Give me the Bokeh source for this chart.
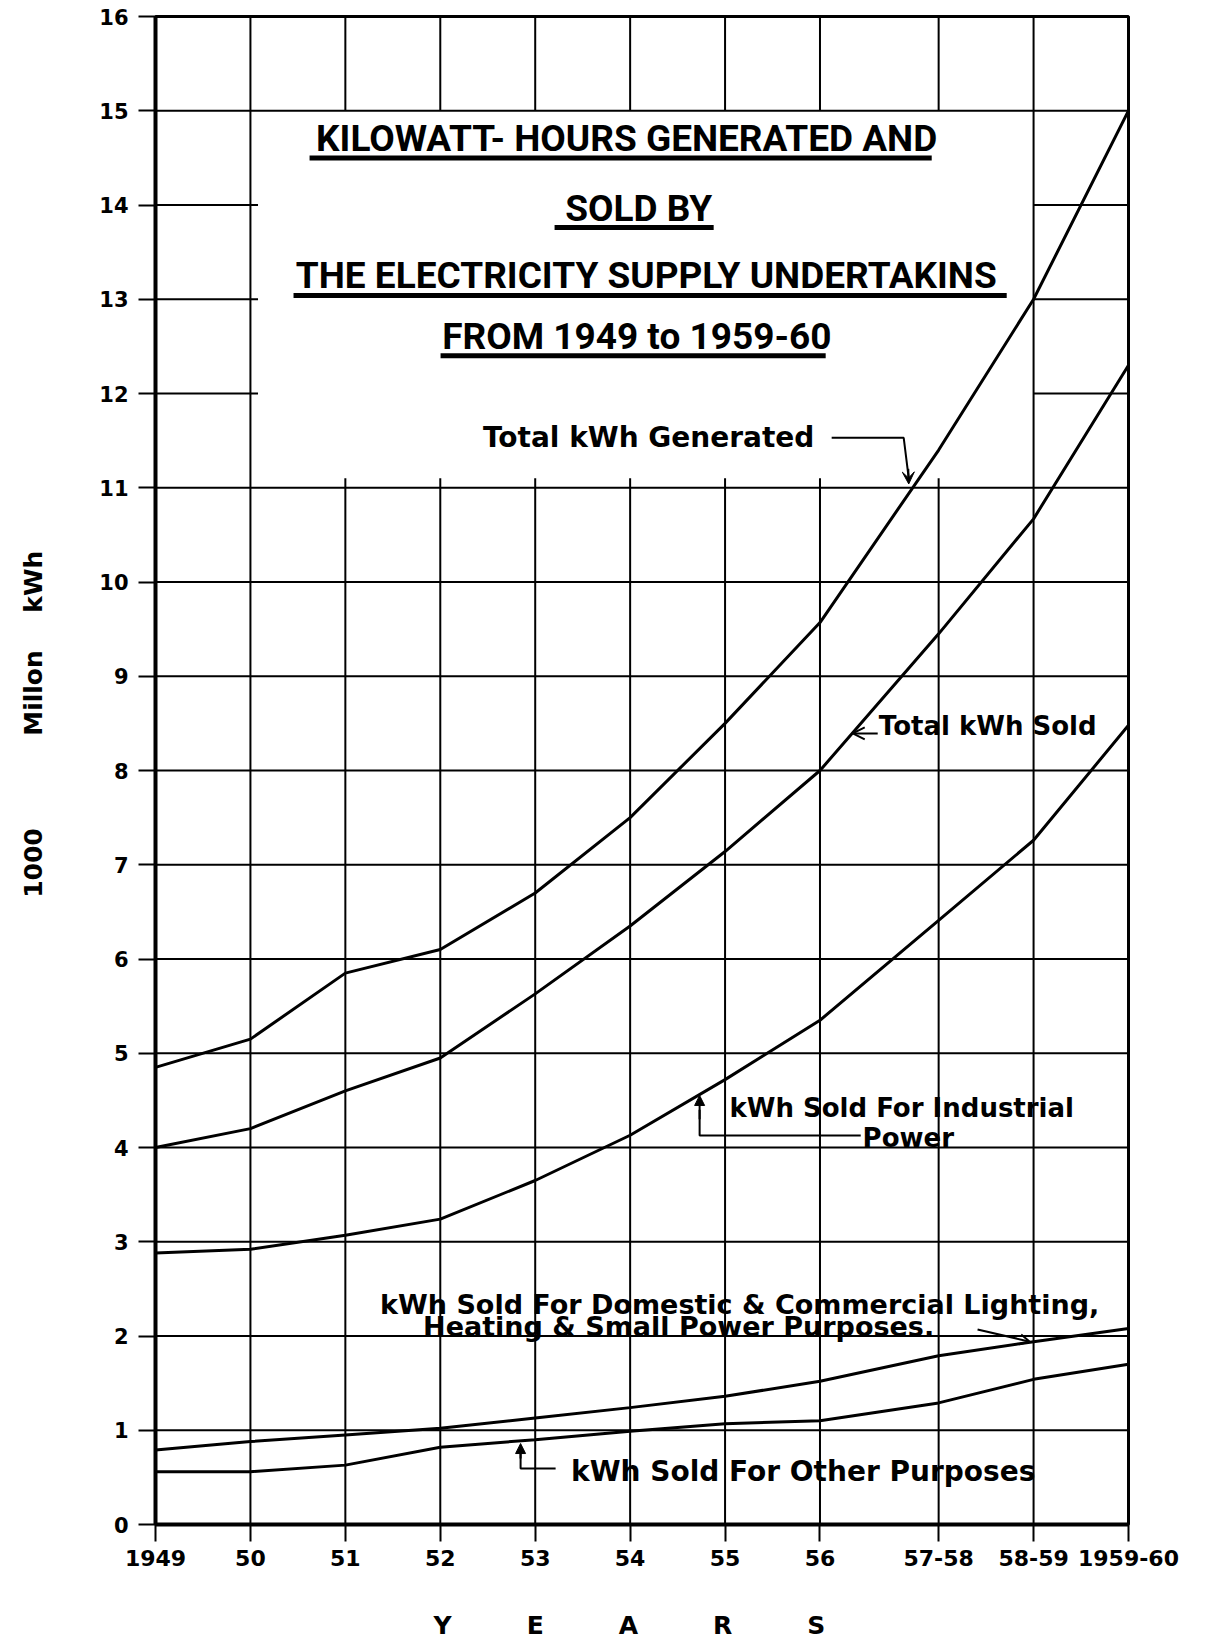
from bokeh.plotting import figure
from bokeh.models import Range1d, FixedTicker, Arrow, VeeHead, OpenHead, NormalHead
from bokeh.core.properties import value
from bokeh.embed import file_html
from bokeh.resources import INLINE

# ---------------- data ----------------
years = ["1949", "50", "51", "52", "53", "54", "55", "56", "57-58", "58-59", "1959-60"]
year_pos = [0, 1, 2, 3, 4, 5, 6, 7, 8.25, 9.25, 10.25]

total_generated = [4.85, 5.15, 5.85, 6.1, 6.7, 7.5, 8.5, 9.57, 11.4, 13.0, 15.0]
total_sold = [4.0, 4.2, 4.6, 4.95, 5.63, 6.35, 7.14, 8.0, 9.45, 10.67, 12.3]
industrial = [2.88, 2.92, 3.07, 3.24, 3.65, 4.13, 4.72, 5.35, 6.41, 7.26, 8.48]
domestic = [0.79, 0.88, 0.95, 1.02, 1.13, 1.24, 1.36, 1.52, 1.79, 1.94, 2.08]
other = [0.56, 0.56, 0.63, 0.82, 0.9, 0.99, 1.07, 1.1, 1.29, 1.54, 1.7]

y_ticks = list(range(0, 17))

title_lines = ["KILOWATT- HOURS GENERATED AND", "SOLD BY",
               "THE ELECTRICITY SUPPLY UNDERTAKINS", "FROM 1949 to 1959-60"]

EM = "\u2003"
y_axis_title = EM * 3 + "\u2002\u2009" + "1000" + EM * 3 + "\u2002\u2009" + "Millon" + EM + "\u2002" + "kWh"
x_axis_title = (EM * 3).join(["Y", "E", "A", "R", "S"]) + EM

FONT = "DejaVu Sans"

# ---------------- figure ----------------
p = figure(frame_width=973, frame_height=1508,
           x_range=Range1d(0, year_pos[-1]), y_range=Range1d(0, 16),
           output_backend="svg", toolbar_location=None,
           min_border_left=155, min_border_top=16, min_border_right=75, min_border_bottom=118)
p.xgrid.visible = False
p.ygrid.visible = False
p.outline_line_color = "black"
p.outline_line_width = 3
p.background_fill_color = "white"
p.border_fill_color = "white"

for ax in (p.xaxis, p.yaxis):
    ax.axis_line_width = 4
    ax.axis_line_color = "black"
    ax.major_tick_out = 17
    ax.major_tick_in = 0
    ax.minor_tick_out = 0
    ax.minor_tick_in = 0
    ax.major_tick_line_width = 2
    ax.major_label_text_font = FONT
    ax.major_label_text_font_style = "bold"
    ax.major_label_text_color = "black"
    ax.axis_label_text_font = FONT
    ax.axis_label_text_font_style = "bold"
    ax.axis_label_text_color = "black"
    ax.axis_label_text_font_size = "25px"

p.xaxis.ticker = FixedTicker(ticks=year_pos)
p.xaxis.major_label_overrides = {pos: lab for pos, lab in zip(year_pos, years)}
p.xaxis.major_label_text_font_size = "22px"
p.xaxis.major_label_standoff = 8
p.xaxis.axis_label = x_axis_title
p.xaxis.axis_label_standoff = 42

p.yaxis.ticker = FixedTicker(ticks=y_ticks)
p.yaxis.major_label_text_font_size = "21px"
p.yaxis.major_label_standoff = 10
p.yaxis.axis_label = y_axis_title
p.yaxis.axis_label_standoff = 48

# ---------------- grid (with blank title box) ----------------
gx0, gy0, gx1, gy1 = [], [], [], []
for t in y_ticks:
    if 11 < t < 15:
        gx0 += [year_pos[0], year_pos[9]]
        gx1 += [year_pos[1] + 0.08, year_pos[10]]
        gy0 += [t, t]
        gy1 += [t, t]
    else:
        gx0.append(year_pos[0]); gx1.append(year_pos[-1]); gy0.append(t); gy1.append(t)
for i, xp in enumerate(year_pos):
    if 1 < i < 9:
        gx0 += [xp, xp]; gx1 += [xp, xp]
        gy0 += [0, 15]; gy1 += [11.1, 16]
    else:
        gx0.append(xp); gx1.append(xp); gy0.append(0); gy1.append(16)
p.segment(gx0, gy0, gx1, gy1, line_color="black", line_width=2)

# ---------------- curves ----------------
for series in (total_generated, total_sold, industrial, domestic, other):
    p.line(year_pos, series, line_color="black", line_width=3)

# ---------------- title ----------------
p.text(x=[4.963, 5.09, 5.17, 5.07], y=[14.71, 13.96, 13.25, 12.6], text=title_lines,
       text_font=value("Roboto"), text_font_style="bold", text_font_size="37px",
       text_align="center", text_baseline="middle", text_color="black")
p.segment(x0=[1.623, 4.204, 1.454, 3.003], y0=[14.5, 13.76, 13.04, 12.4],
          x1=[8.177, 5.88, 8.967, 7.06], y1=[14.5, 13.76, 13.04, 12.4],
          line_color="black", line_width=5)

# ---------------- annotations ----------------
ann_text = ["Total kWh Generated", "Total kWh Sold", "kWh Sold For Industrial", "Power",
            "kWh Sold For Domestic & Commercial Lighting,", "Heating & Small Power  Purposes.",
            "kWh Sold For Other Purposes"]
ann_x = [5.195, 8.767, 7.861, 7.93, 6.154, 5.56, 6.823]
ann_y = [11.53, 8.467, 4.424, 4.106, 2.334, 2.1, 0.562]
ann_size = ["28px", "26px", "26px", "26px", "27px", "27px", "28px"]
p.text(x=ann_x, y=ann_y, text=ann_text, text_font=value(FONT), text_font_style="bold",
       text_font_size=ann_size, text_align="center", text_baseline="middle", text_color="black")

# leader lines
p.line([7.123, 7.882, 7.935], [11.53, 11.53, 11.1], line_color="black", line_width=2)
p.add_layout(Arrow(end=VeeHead(size=12, fill_color="black", line_color="black"),
                   x_start=7.93, y_start=11.2, x_end=7.935, y_end=11.04,
                   line_color="black", line_width=2))
p.add_layout(Arrow(end=OpenHead(size=12, line_color="black", line_width=2),
                   x_start=7.608, y_start=8.393, x_end=7.345, y_end=8.393,
                   line_color="black", line_width=2))
p.line([7.429, 5.732, 5.732], [4.127, 4.127, 4.4], line_color="black", line_width=2)
p.add_layout(Arrow(end=NormalHead(size=10, fill_color="black", line_color="black"),
                   x_start=5.732, y_start=4.3, x_end=5.732, y_end=4.552,
                   line_color="black", line_width=2))
p.add_layout(Arrow(end=OpenHead(size=10, line_color="black", line_width=2),
                   x_start=8.66, y_start=2.07, x_end=9.21, y_end=1.94,
                   line_color="black", line_width=2))
p.line([4.215, 3.846, 3.846], [0.594, 0.594, 0.75], line_color="black", line_width=2)
p.add_layout(Arrow(end=NormalHead(size=10, fill_color="black", line_color="black"),
                   x_start=3.846, y_start=0.7, x_end=3.846, y_end=0.859,
                   line_color="black", line_width=2))

open("out.html", "w").write(file_html(p, INLINE))
